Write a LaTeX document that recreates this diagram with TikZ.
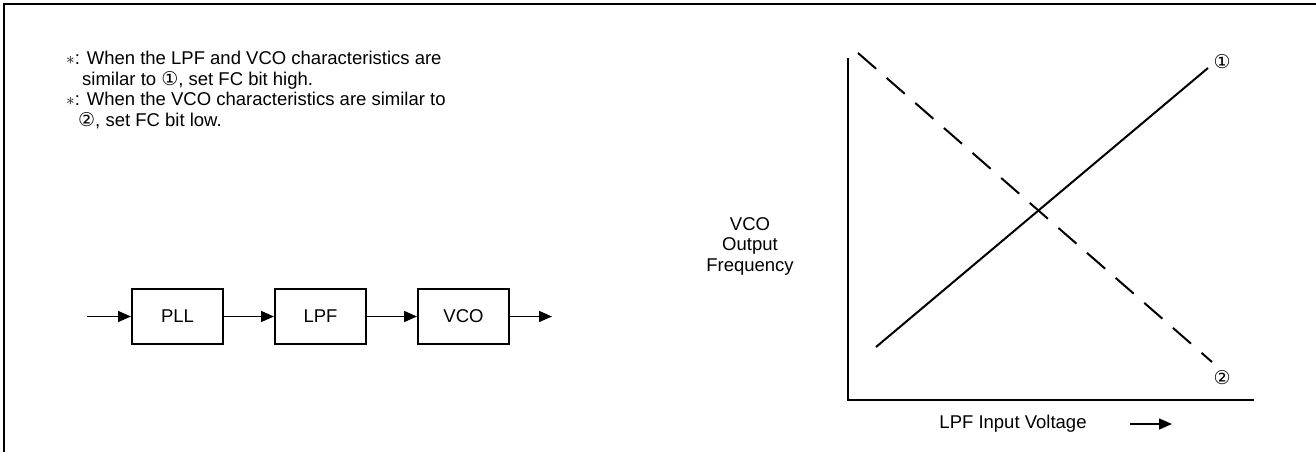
\documentclass[tikz,border=0pt]{standalone}
\usepackage{fontspec}
\setmainfont{Liberation Sans}
\newfontfamily\symfont{DejaVu Sans}
\usetikzlibrary{arrows.meta,positioning}

\newcommand{\circone}{{\symfont\fontsize{19}{20}\selectfont ①}}
\newcommand{\circtwo}{{\symfont\fontsize{19}{20}\selectfont ②}}

\begin{document}
\begin{tikzpicture}[x=1pt, y=-1pt, >={Triangle[length=13pt,width=11pt]},
  every node/.style={font=\fontsize{18.5}{20.5}\selectfont},
  blockbox/.style={draw, line width=2pt, minimum width=91pt, minimum height=55pt},
  flow/.style={->, line width=1.5pt}]
  \useasboundingbox (0,0) rectangle (1316,452);

  % Frame
  \draw[line width=2pt] (4,452) -- (4,4) -- (1316,4);

  % Notes
  \node[anchor=north west, align=left, inner sep=0pt] (notes) at (66,51)
    {$\ast$: When the LPF and VCO characteristics are\\
     \hspace*{16pt}similar to \circone, set FC bit high.\\
     $\ast$: When the VCO characteristics are similar to\\
     \hspace*{12pt}\circtwo, set FC bit low.};

  % Block chain
  \node[blockbox] (pll) at (177.5,316.5) {PLL};
  \node[blockbox, right=50pt of pll] (lpf) {LPF};
  \node[blockbox, right=50pt of lpf] (vco) {VCO};
  \coordinate (in) at (87,316.5);
  \coordinate[right=42pt of vco] (out);
  \draw[flow] (in) -- (pll);
  \draw[flow] (pll) -- (lpf);
  \draw[flow] (lpf) -- (vco);
  \draw[flow] (vco) -- (out);

  % Axes
  \coordinate (origin) at (848,400);
  \coordinate (ytop) at (848,58);
  \coordinate (xend) at (1254,400);
  \draw[line width=1.5pt] (ytop) -- (origin) -- (xend);

  % Characteristic 1
  \coordinate (s1) at (876,347);
  \coordinate (s2) at (1208,68);
  \draw[line width=2pt] (s1) -- (s2);
  \node (one) at (1222,62) {\circone};

  % Characteristic 2
  \coordinate (d1) at (858,53);
  \coordinate (d2) at (1212,362);
  \draw[line width=2pt, dash pattern=on 24pt off 14pt] (d1) -- (d2);
  \node (two) at (1222,378) {\circtwo};

  % Axis labels
  \node[align=center] (ylabel) at (750,246) {VCO\\Output\\Frequency};
  \node (xlabel) at (1013,424) {LPF Input Voltage};
  \coordinate (xa) at (1130,424);
  \coordinate (xb) at (1172,424);
  \draw[flow] (xa) -- (xb);
\end{tikzpicture}
\end{document}
